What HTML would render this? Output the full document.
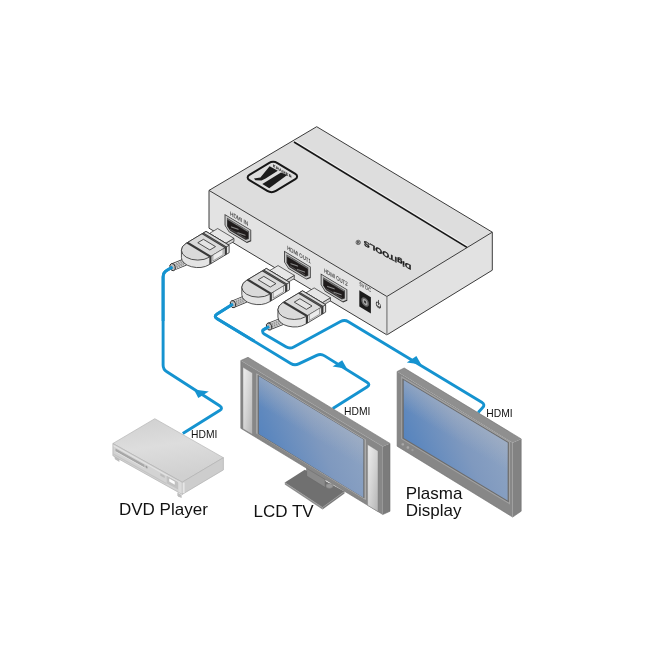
<!DOCTYPE html>
<html><head><meta charset="utf-8">
<style>
html,body{margin:0;padding:0;background:#fff;}
body{width:650px;height:650px;overflow:hidden;}
svg{display:block;will-change:transform;}
text{font-family:"Liberation Sans",sans-serif;}
</style></head>
<body>
<svg width="650" height="650" viewBox="0 0 650 650">
<defs>
  <linearGradient id="scr" x1="0" y1="0.75" x2="1" y2="0.25">
    <stop offset="0" stop-color="#4e80bf"/>
    <stop offset="0.2" stop-color="#5e88be"/>
    <stop offset="0.55" stop-color="#7f99bf"/>
    <stop offset="1" stop-color="#93a8c5"/>
  </linearGradient>
  <linearGradient id="sheen1" gradientUnits="userSpaceOnUse" x1="258.8" y1="376.2" x2="246" y2="397.6">
    <stop offset="0" stop-color="#aab4c4" stop-opacity="0.55"/>
    <stop offset="1" stop-color="#aab4c4" stop-opacity="0"/>
  </linearGradient>
  <linearGradient id="sheen2" gradientUnits="userSpaceOnUse" x1="403.8" y1="380.2" x2="391" y2="401.6">
    <stop offset="0" stop-color="#aab4c4" stop-opacity="0.55"/>
    <stop offset="1" stop-color="#aab4c4" stop-opacity="0"/>
  </linearGradient>
  <linearGradient id="spk" x1="0" y1="0" x2="1" y2="1">
    <stop offset="0" stop-color="#eeeeee"/>
    <stop offset="0.5" stop-color="#d4d4d4"/>
    <stop offset="1" stop-color="#b4b4b4"/>
  </linearGradient>
  <linearGradient id="dvdtop" x1="0" y1="0" x2="0.25" y2="1">
    <stop offset="0" stop-color="#cfcfcf"/>
    <stop offset="0.5" stop-color="#dddddd"/>
    <stop offset="1" stop-color="#d0d0d0"/>
  </linearGradient>
</defs>
<rect width="650" height="650" fill="#fff"/>
<g fill="none" stroke="#1593d0" stroke-width="2.9" stroke-linejoin="round" stroke-linecap="butt">
<path d="M172.6,267.1 L167.03,270.21 Q163.1,272.4 163.1,276.9 L163.1,364.9 Q163.1,369.4 166.88,371.83 L219.62,405.77 Q223.4,408.2 219.59,410.59 L182.8,433.6"/>
<path d="M233,304.1 L217.13,313.93 Q213.3,316.3 217.14,318.64 L290.76,363.46 Q294.6,365.8 298.67,363.89 L316.73,355.41 Q320.8,353.5 324.62,355.88 L366.98,382.22 Q370.8,384.6 367,387 L332.8,408.6"/>
<path d="M269.1,326.5 L263.79,329.57 Q262.7,330.2 262.7,331.46 L262.7,331.74 Q262.7,333 263.78,333.64 L285.93,346.8 Q289.8,349.1 293.75,346.95 L340.55,321.55 Q344.5,319.4 348.35,321.73 L481.75,402.27 Q485.6,404.6 482.5,407.86 L478.2,412.4"/>
</g>
<g fill="#1593d0">
<path d="M193.9,389.4 L208.8,391.4 L198.3,398 Z"/>
<path d="M347,368.7 L332.6,366.6 L342.2,360.2 Z"/>
<path d="M421.2,364.5 L406.8,362.4 L416.4,356 Z"/>
</g>
<g stroke-linejoin="round">
<path d="M114.6,455 l0,3.2 q0.3,1.3 2,2.1 l2.8,1.6 l0,-3 Z" fill="#bdbdbd"/>
<path d="M177.4,492.6 l0,2.6 q0.3,1.2 1.8,1.9 l2.4,1 l0,-3 Z" fill="#bdbdbd"/>
<polygon points="112.9,443.5 154.8,418.7 223.4,457.7 182.2,482.2" fill="url(#dvdtop)" stroke="#b6b6b6" stroke-width="0.7"/>
<polygon points="112.9,443.5 182.2,482.2 182.2,494.4 112.9,455.7" fill="#d3d3d3" stroke="#b2b2b2" stroke-width="0.7"/>
<polygon points="182.2,482.2 223.4,457.7 223.4,469.9 182.2,494.4" fill="#cdcdcd" stroke="#b2b2b2" stroke-width="0.7"/>
<line x1="183.6" y1="482.6" x2="183.6" y2="493.2" stroke="#e6e6e6" stroke-width="2"/>
<g transform="matrix(1,0.56,0,1,112.9,443.5)">
<rect x="0.6" y="1.2" width="66.6" height="1.1" fill="#e4e4e4"/>
<rect x="2.6" y="3.6" width="29" height="2.6" fill="#a7a7a7"/>
<rect x="2.6" y="6.2" width="29" height="0.8" fill="#e6e6e6"/>
<ellipse cx="33.6" cy="4.7" rx="1.1" ry="1.2" fill="#9c9c9c"/>
<rect x="47.4" y="3.2" width="4.4" height="2.4" fill="#bcbcbc"/>
<rect x="53.8" y="2" width="11.4" height="7.6" fill="#c2c2c2"/>
<rect x="56" y="3.1" width="6.2" height="3.8" fill="#fcfcfc" stroke="#aaa" stroke-width="0.4"/>
<rect x="65.6" y="0.6" width="3.2" height="11" fill="#dcdcdc"/>
<rect x="0.6" y="9.6" width="53" height="1.2" fill="#c4c4c4"/>
</g>
</g>
<g>
<polygon points="284.8,482.6 304.8,469.7 344.5,491.5 322.5,507.4" fill="#707070"/>
<polygon points="284.8,482.6 322.5,507.4 322.5,509.6 284.8,484.6" fill="#8e8e8e"/>
<polygon points="322.5,507.4 344.5,491.5 344.5,493.5 322.5,509.6" fill="#7c7c7c"/>
<path d="M284.8,482.6 L322.5,507.4 L344.5,491.5" fill="none" stroke="#999" stroke-width="0.6"/>
<polygon points="306.6,462 325.2,473.5 325.2,487.5 306.6,476" fill="#8a8a8a" stroke="#666" stroke-width="0.6"/>
<ellipse cx="329.5" cy="486" rx="3.6" ry="2.4" fill="#999" stroke="#777" stroke-width="0.5"/>
<polygon points="240.8,360.5 248,357.3 390,443.4 382.8,446.6" fill="#8f8f8f"/>
<polygon points="382.8,446.6 390,443.4 390,511.3 382.8,514.5" fill="#7b7b7b"/>
<polygon points="240.8,360.5 382.8,446.6 382.8,514.5 240.8,428.3" fill="#878787"/>
<path d="M240.8,360.5 L248,357.3 L390,443.4 L390,511.3 L382.8,514.5 L240.8,428.3 Z" fill="none" stroke="#6f6f6f" stroke-width="0.6"/>
<path d="M240.8,360.5 L382.8,446.6 L382.8,446.6" fill="none" stroke="#a0a0a0" stroke-width="0.5"/>
<polygon points="243,367.3 252.5,373 252.5,434.5 243,428.8" fill="url(#spk)" stroke="#7a7a7a" stroke-width="0.4"/>
<polygon points="367.6,444.6 378,450.9 378,511.6 367.6,505.3" fill="url(#spk)" stroke="#7a7a7a" stroke-width="0.4"/>
<polygon points="256.3,373.3 365.8,439.6 365.8,499.9 256.3,433.6" fill="#b2b2b2"/>
<polygon points="257.6,374.8 364.5,439.5 364.5,498.6 257.6,433.9" fill="#6a6a6a"/>
<polygon points="258.8,376.2 363.3,439.5 363.3,497.4 258.8,434.1" fill="url(#scr)"/>
<polygon points="258.8,376.2 363.3,439.5 363.3,497.4 258.8,434.1" fill="url(#sheen1)"/>
</g>
<g>
<polygon points="397.1,371.5 404.2,368 521.2,438.9 512.7,442.8" fill="#8f8f8f"/>
<polygon points="512.7,442.8 521.2,438.9 521.2,511.2 512.7,517.1" fill="#828282"/>
<polygon points="397.1,371.5 512.7,442.8 512.7,517.1 397.1,446.2" fill="#878787"/>
<path d="M397.1,371.5 L404.2,368 L521.2,438.9 L521.2,511.2 L512.7,517.1 L397.1,446.2 Z" fill="none" stroke="#707070" stroke-width="0.6"/>
<polygon points="401.2,375.9 510,441.6 510,504.6 401.2,438.9" fill="#a2a2a2"/>
<polygon points="402.3,378.2 508.9,442.3 508.9,502.6 402.3,438.5" fill="#6c6c6c"/>
<polygon points="403.8,380.2 507.6,442.8 507.6,500.6 403.8,437.9" fill="url(#scr)"/>
<polygon points="403.8,380.2 507.6,442.8 507.6,500.6 403.8,437.9" fill="url(#sheen2)"/>
<g fill="#a8a8a8">
<rect x="401.5" y="443.2" width="2.6" height="2.4" rx="0.8" transform="skewY(0)"/>
<rect x="406.6" y="446.3" width="2.6" height="2.4" rx="0.8"/>
<rect x="411.4" y="449" width="2.2" height="2.2" rx="0.8" fill="#9a9a9a"/>
</g>
</g>
<g stroke-linejoin="round">
<polygon points="209,190.4 316.7,126.7 492.3,232.2 386.9,296.5" fill="#dddddd"/>
<polygon points="209,190.4 386.9,296.5 386.9,334.9 209,228.2" fill="#e3e3e3"/>
<polygon points="386.9,296.5 492.3,232.2 492.3,270.2 386.9,334.9" fill="#e2e2e2"/>
<path d="M209,190.4 L316.7,126.7 L492.3,232.2 L492.3,270.2 L386.9,334.9 L209,228.2 Z" fill="none" stroke="#3c3c3c" stroke-width="1"/>
<path d="M209,190.4 L386.9,296.5 L492.3,232.2" fill="none" stroke="#3c3c3c" stroke-width="1"/>
<line x1="386.9" y1="297" x2="386.9" y2="334.9" stroke="#888" stroke-width="1.4"/>
<line x1="294.6" y1="140.6" x2="467.4" y2="245.8" stroke="#f4f4f4" stroke-width="1"/>
<line x1="294" y1="142" x2="467" y2="247.4" stroke="#161616" stroke-width="1.6"/>
</g>
<g transform="matrix(0.86,0.52,0.86,-0.52,209,190.4)">
<rect x="8.6" y="33.4" width="30.8" height="32.6" rx="5" ry="5" fill="none" stroke="#161616" stroke-width="2" vector-effect="non-scaling-stroke"/>
</g>
<path d="M253.9,178.6 L260.4,177.5 L269.6,166.3 L277.8,170.8 L265.6,178.6 L261.5,180.5 L255.4,180.2 Z" fill="#1c1c1c"/>
<path d="M262.3,184 L281,172.6 L287.2,174.9 L269.2,188.3 Z" fill="#1c1c1c"/>
<text transform="matrix(1,0.62,0,1,272.8,166.7)" font-size="4" font-weight="bold" fill="#111" letter-spacing="0.25">KRAMER</text>
<text transform="matrix(-0.93,-0.49,0,-0.74,411.3,265.3)" font-size="9.6" font-weight="bold" fill="#1a1a1a" stroke="#1a1a1a" stroke-width="0.45">DigiTOOLS</text>
<circle cx="358.2" cy="242.4" r="2.2" fill="#bdbdbd" stroke="#444" stroke-width="0.7"/>
<text x="356.9" y="243.8" font-size="3.6" font-weight="bold" fill="#333">R</text>
<g transform="matrix(1,0.6,0,1,225,214.7)">
<path d="M0,0 H25.8 V10.6 L21.8,14.6 H4 L0,10.6 Z" fill="#c6c6c6" stroke="#2e2e2e" stroke-width="0.8"/>
<path d="M2,1.9 H23.8 V10.1 L20.7,12.9 H5.1 L2,10.1 Z" fill="#3a3a3a"/>
<path d="M2.8,3.9 H23 V9.8 L20.4,12 H5.4 L2.8,9.8 Z" fill="#1f1b1b"/>
<path d="M2.6,2.9 H23.2" stroke="#dadada" stroke-width="0.75" stroke-dasharray="0.55,0.55"/>
<path d="M5.4,11.3 H20.4" stroke="#8a8a8a" stroke-width="0.9" stroke-dasharray="0.6,0.5"/>
<path d="M6,8.6 L13.5,6.6 M12.5,10.4 L20.5,8.4" stroke="#858585" stroke-width="1.1"/>
</g>
<g transform="matrix(1,0.6,0,1,284.5,251.4)">
<path d="M0,0 H25.8 V10.6 L21.8,14.6 H4 L0,10.6 Z" fill="#c6c6c6" stroke="#2e2e2e" stroke-width="0.8"/>
<path d="M2,1.9 H23.8 V10.1 L20.7,12.9 H5.1 L2,10.1 Z" fill="#3a3a3a"/>
<path d="M2.8,3.9 H23 V9.8 L20.4,12 H5.4 L2.8,9.8 Z" fill="#1f1b1b"/>
<path d="M2.6,2.9 H23.2" stroke="#dadada" stroke-width="0.75" stroke-dasharray="0.55,0.55"/>
<path d="M5.4,11.3 H20.4" stroke="#8a8a8a" stroke-width="0.9" stroke-dasharray="0.6,0.5"/>
<path d="M6,8.6 L13.5,6.6 M12.5,10.4 L20.5,8.4" stroke="#858585" stroke-width="1.1"/>
</g>
<g transform="matrix(1,0.6,0,1,321.1,274.2)">
<path d="M0,0 H25.8 V10.6 L21.8,14.6 H4 L0,10.6 Z" fill="#c6c6c6" stroke="#2e2e2e" stroke-width="0.8"/>
<path d="M2,1.9 H23.8 V10.1 L20.7,12.9 H5.1 L2,10.1 Z" fill="#3a3a3a"/>
<path d="M2.8,3.9 H23 V9.8 L20.4,12 H5.4 L2.8,9.8 Z" fill="#1f1b1b"/>
<path d="M2.6,2.9 H23.2" stroke="#dadada" stroke-width="0.75" stroke-dasharray="0.55,0.55"/>
<path d="M5.4,11.3 H20.4" stroke="#8a8a8a" stroke-width="0.9" stroke-dasharray="0.6,0.5"/>
<path d="M6,8.6 L13.5,6.6 M12.5,10.4 L20.5,8.4" stroke="#858585" stroke-width="1.1"/>
</g>
<text transform="matrix(0.82,0.49,0,1,230,215.2)" font-size="5.8" fill="#383838" stroke="#383838" stroke-width="0.1">HDMI IN</text>
<text transform="matrix(0.74,0.44,0,1,287.2,249.6)" font-size="5.8" fill="#383838" stroke="#383838" stroke-width="0.1">HDMI OUT1</text>
<text transform="matrix(0.74,0.44,0,1,324,272.2)" font-size="5.8" fill="#383838" stroke="#383838" stroke-width="0.1">HDMI OUT2</text>
<text transform="matrix(0.74,0.44,0,1,359.6,285.4)" font-size="5.2" fill="#383838" stroke="#383838" stroke-width="0.1">5V DC</text>
<g transform="matrix(1,0.6,0,1,359.3,290.2)">
<rect x="0" y="0" width="11.6" height="16.4" fill="#1c1c1c"/>
<ellipse cx="5.8" cy="8.3" rx="3.8" ry="4.2" fill="#6a6a6a"/>
<ellipse cx="5.8" cy="8.3" rx="2.4" ry="2.7" fill="#aaa"/>
<ellipse cx="5.8" cy="8.3" rx="1.1" ry="1.3" fill="#333"/>
</g>
<g transform="matrix(1,0.6,0,1,376,300)" fill="none" stroke="#333" stroke-width="0.8">
<ellipse cx="2.4" cy="3.6" rx="2.2" ry="2.5"/>
<path d="M2.4,-1.5 V3.6 M0.6,5 H4.2"/>
</g>
<g stroke-linejoin="round">
<polygon points="233.94,238.3 225.71,243.25 225.71,246.44 233.94,241.5" fill="#d2d2d2" stroke="#2a2a2a" stroke-width="0.7"/>
<polygon points="209.43,233.46 217.66,228.52 233.94,238.3 225.71,243.25" fill="#e6e6e6" stroke="#2a2a2a" stroke-width="0.7"/>
<line x1="185.2" y1="262" x2="172.6" y2="267.1" stroke="#3a3a3a" stroke-width="7.6"/>
<line x1="185.2" y1="262" x2="172.6" y2="267.1" stroke="#e2e2e2" stroke-width="6"/>
<path d="M183.09,262.81 l1.2,-3 M184.29,262.41 l-1.4,3.2" stroke="#6a6a6a" stroke-width="0.7" fill="none"/>
<path d="M181.2,263.58 l1.2,-3 M182.4,263.18 l-1.4,3.2" stroke="#6a6a6a" stroke-width="0.7" fill="none"/>
<path d="M179.31,264.34 l1.2,-3 M180.51,263.94 l-1.4,3.2" stroke="#6a6a6a" stroke-width="0.7" fill="none"/>
<path d="M177.42,265.11 l1.2,-3 M178.62,264.71 l-1.4,3.2" stroke="#6a6a6a" stroke-width="0.7" fill="none"/>
<path d="M175.53,265.87 l1.2,-3 M176.73,265.47 l-1.4,3.2" stroke="#6a6a6a" stroke-width="0.7" fill="none"/>
<path d="M173.64,266.64 l1.2,-3 M174.84,266.24 l-1.4,3.2" stroke="#6a6a6a" stroke-width="0.7" fill="none"/>
<ellipse cx="172.6" cy="267.1" rx="2.6" ry="3.7" transform="rotate(-18 172.6 267.1)" fill="#bdbdbd" stroke="#2e2e2e" stroke-width="0.9"/>
<path d="M229.14,245.31 L229.14,252.71 L209.34,264.6 A16.36,9.83 0 0 1 181.41,257.65 L181.41,250.25 A16.36,9.83 0 0 1 186.2,243.3 L206,231.4 Z" fill="#e4e4e4" stroke="#2a2a2a" stroke-width="0.8"/>
<path d="M206,231.4 L229.14,245.31 L209.34,257.2 A16.36,9.83 0 0 1 186.2,243.3 Z" fill="#dadada" stroke="#2a2a2a" stroke-width="0.8"/>
<polygon points="203.77,232.74 226.91,246.64 224.68,247.98 201.54,234.08" fill="#383838"/>
<polygon points="226.91,246.64 224.68,247.98 224.68,255.38 226.91,254.04" fill="#383838"/>
<polygon points="188.35,242.01 211.48,255.91 209.34,257.2 186.2,243.3" fill="#383838"/>
<polygon points="211.48,255.91 209.34,257.2 209.34,264.6 211.48,263.31" fill="#383838"/>
<line x1="202.91" y1="233.56" x2="225.54" y2="247.16" stroke="#777" stroke-width="0.5"/>
<polygon points="203.43,239.33 215.51,246.59 209.86,249.99 197.77,242.73" fill="#e4e4e4" stroke="#2a2a2a" stroke-width="0.8"/>
<polygon points="223.14,248.91 212.86,255.09 212.86,260.99 223.14,254.81" fill="#ececec" stroke="#555" stroke-width="0.5"/>
</g>
<g stroke-linejoin="round">
<polygon points="294.34,275.35 286.11,280.3 286.11,283.5 294.34,278.55" fill="#d2d2d2" stroke="#2a2a2a" stroke-width="0.7"/>
<polygon points="269.83,270.51 278.06,265.57 294.34,275.35 286.11,280.3" fill="#e6e6e6" stroke="#2a2a2a" stroke-width="0.7"/>
<line x1="245.6" y1="299.05" x2="233" y2="304.15" stroke="#3a3a3a" stroke-width="7.6"/>
<line x1="245.6" y1="299.05" x2="233" y2="304.15" stroke="#e2e2e2" stroke-width="6"/>
<path d="M243.49,299.86 l1.2,-3 M244.69,299.46 l-1.4,3.2" stroke="#6a6a6a" stroke-width="0.7" fill="none"/>
<path d="M241.6,300.63 l1.2,-3 M242.8,300.23 l-1.4,3.2" stroke="#6a6a6a" stroke-width="0.7" fill="none"/>
<path d="M239.71,301.39 l1.2,-3 M240.91,300.99 l-1.4,3.2" stroke="#6a6a6a" stroke-width="0.7" fill="none"/>
<path d="M237.82,302.16 l1.2,-3 M239.02,301.76 l-1.4,3.2" stroke="#6a6a6a" stroke-width="0.7" fill="none"/>
<path d="M235.93,302.92 l1.2,-3 M237.13,302.52 l-1.4,3.2" stroke="#6a6a6a" stroke-width="0.7" fill="none"/>
<path d="M234.04,303.69 l1.2,-3 M235.24,303.29 l-1.4,3.2" stroke="#6a6a6a" stroke-width="0.7" fill="none"/>
<ellipse cx="233" cy="304.15" rx="2.6" ry="3.7" transform="rotate(-18 233 304.15)" fill="#bdbdbd" stroke="#2e2e2e" stroke-width="0.9"/>
<path d="M289.54,282.36 L289.54,289.75 L269.74,301.65 A16.36,9.83 0 0 1 241.81,294.7 L241.81,287.3 A16.36,9.83 0 0 1 246.6,280.35 L266.4,268.45 Z" fill="#e4e4e4" stroke="#2a2a2a" stroke-width="0.8"/>
<path d="M266.4,268.45 L289.54,282.36 L269.74,294.25 A16.36,9.83 0 0 1 246.6,280.35 Z" fill="#dadada" stroke="#2a2a2a" stroke-width="0.8"/>
<polygon points="264.17,269.79 287.31,283.69 285.08,285.03 261.94,271.13" fill="#383838"/>
<polygon points="287.31,283.69 285.08,285.03 285.08,292.43 287.31,291.09" fill="#383838"/>
<polygon points="248.75,279.06 271.88,292.96 269.74,294.25 246.6,280.35" fill="#383838"/>
<polygon points="271.88,292.96 269.74,294.25 269.74,301.65 271.88,300.36" fill="#383838"/>
<line x1="263.31" y1="270.61" x2="285.94" y2="284.21" stroke="#777" stroke-width="0.5"/>
<polygon points="263.83,276.38 275.91,283.64 270.26,287.04 258.17,279.78" fill="#e4e4e4" stroke="#2a2a2a" stroke-width="0.8"/>
<polygon points="283.54,285.96 273.26,292.14 273.26,298.04 283.54,291.86" fill="#ececec" stroke="#555" stroke-width="0.5"/>
</g>
<g stroke-linejoin="round">
<polygon points="330.44,297.7 322.21,302.65 322.21,305.85 330.44,300.9" fill="#d2d2d2" stroke="#2a2a2a" stroke-width="0.7"/>
<polygon points="305.93,292.86 314.16,287.92 330.44,297.7 322.21,302.65" fill="#e6e6e6" stroke="#2a2a2a" stroke-width="0.7"/>
<line x1="281.7" y1="321.4" x2="269.1" y2="326.5" stroke="#3a3a3a" stroke-width="7.6"/>
<line x1="281.7" y1="321.4" x2="269.1" y2="326.5" stroke="#e2e2e2" stroke-width="6"/>
<path d="M279.59,322.21 l1.2,-3 M280.79,321.81 l-1.4,3.2" stroke="#6a6a6a" stroke-width="0.7" fill="none"/>
<path d="M277.7,322.98 l1.2,-3 M278.9,322.58 l-1.4,3.2" stroke="#6a6a6a" stroke-width="0.7" fill="none"/>
<path d="M275.81,323.74 l1.2,-3 M277.01,323.34 l-1.4,3.2" stroke="#6a6a6a" stroke-width="0.7" fill="none"/>
<path d="M273.92,324.51 l1.2,-3 M275.12,324.11 l-1.4,3.2" stroke="#6a6a6a" stroke-width="0.7" fill="none"/>
<path d="M272.03,325.27 l1.2,-3 M273.23,324.87 l-1.4,3.2" stroke="#6a6a6a" stroke-width="0.7" fill="none"/>
<path d="M270.14,326.04 l1.2,-3 M271.34,325.64 l-1.4,3.2" stroke="#6a6a6a" stroke-width="0.7" fill="none"/>
<ellipse cx="269.1" cy="326.5" rx="2.6" ry="3.7" transform="rotate(-18 269.1 326.5)" fill="#bdbdbd" stroke="#2e2e2e" stroke-width="0.9"/>
<path d="M325.64,304.71 L325.64,312.11 L305.84,324 A16.36,9.83 0 0 1 277.91,317.05 L277.91,309.65 A16.36,9.83 0 0 1 282.7,302.7 L302.5,290.8 Z" fill="#e4e4e4" stroke="#2a2a2a" stroke-width="0.8"/>
<path d="M302.5,290.8 L325.64,304.71 L305.84,316.6 A16.36,9.83 0 0 1 282.7,302.7 Z" fill="#dadada" stroke="#2a2a2a" stroke-width="0.8"/>
<polygon points="300.27,292.14 323.41,306.04 321.18,307.38 298.04,293.48" fill="#383838"/>
<polygon points="323.41,306.04 321.18,307.38 321.18,314.78 323.41,313.44" fill="#383838"/>
<polygon points="284.85,301.41 307.98,315.31 305.84,316.6 282.7,302.7" fill="#383838"/>
<polygon points="307.98,315.31 305.84,316.6 305.84,324 307.98,322.71" fill="#383838"/>
<line x1="299.41" y1="292.96" x2="322.04" y2="306.56" stroke="#777" stroke-width="0.5"/>
<polygon points="299.93,298.73 312.01,305.99 306.36,309.39 294.27,302.13" fill="#e4e4e4" stroke="#2a2a2a" stroke-width="0.8"/>
<polygon points="319.64,308.31 309.36,314.49 309.36,320.39 319.64,314.21" fill="#ececec" stroke="#555" stroke-width="0.5"/>
</g>
<g fill="none" stroke="#1593d0" stroke-width="2.9" stroke-linejoin="round">
<path d="M172.6,267.1 L167.03,270.21 Q163.1,272.4 163.1,276.9 L163.1,320.9"/>
<path d="M233,304.1 L217.13,313.93 Q213.3,316.3 217.14,318.64 L253.95,341.05"/>
<path d="M269.1,326.5 L263.25,329.88 Q262.7,330.2 262.7,330.83 L262.7,331.6"/>
</g>
<g font-size="10.3" fill="#111">
<text x="191.1" y="437.9">HDMI</text>
<text x="344.1" y="414.6">HDMI</text>
<text x="486.3" y="416.6">HDMI</text>
</g>
<g font-size="17" fill="#111">
<text x="119" y="515">DVD Player</text>
<text x="253.5" y="516.5">LCD TV</text>
<text x="405.7" y="498.6">Plasma</text>
<text x="405.7" y="515.6">Display</text>
</g>
</svg>
</body></html>
